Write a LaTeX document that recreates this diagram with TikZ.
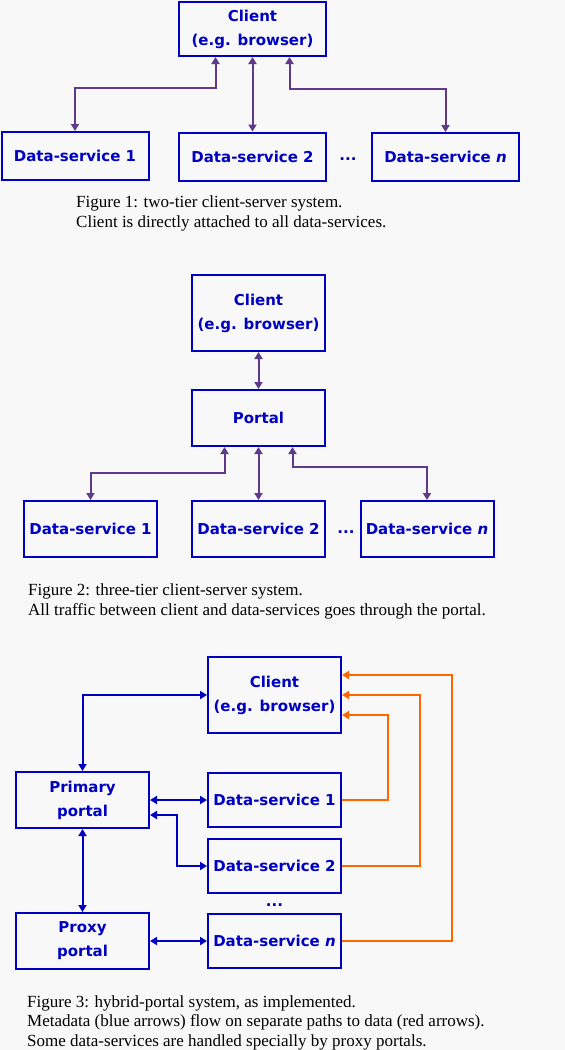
\documentclass[tikz,border=0pt]{standalone}
\usepackage{fontspec}
\setmainfont{Liberation Serif}
\newfontfamily\boxfont{DejaVu Sans}
\usepackage{tikz}
\usetikzlibrary{arrows.meta,positioning,calc}
\definecolor{dsblue}{HTML}{0000C0}
\definecolor{dspurple}{HTML}{5F3A8C}
\definecolor{dsorange}{HTML}{FF6600}
\definecolor{dsback}{HTML}{F8F8F8}

\begin{document}
\begin{tikzpicture}[
  x=1pt, y=-1pt,
  box/.style={draw=dsblue, line width=2pt, text=dsblue, align=center, inner sep=0pt,
    minimum width=133pt, minimum height=56pt,
    font=\boxfont\bfseries\fontsize{15}{24}\selectfont},
  dotnode/.style={text=dsblue, inner sep=0pt, font=\boxfont\bfseries\fontsize{15}{24}\selectfont},
  captext/.style={anchor=base west, align=left, inner sep=0pt, font=\fontsize{17}{19.5}\selectfont},
  arr/.style={{Triangle[length=7pt,width=8pt]}-{Triangle[length=7pt,width=8pt]}, line width=2pt, dspurple},
  arrb/.style={arr, dsblue},
  arro/.style={-{Triangle[length=7pt,width=8pt]}, line width=2pt, dsorange},
]
\fill[dsback] (0,0) rectangle (565,1050);
\useasboundingbox (0,0) rectangle (565,1050);

% Figure 1
\node[box, minimum width=147pt, minimum height=54pt] (cl1) at (252.5,29) {Client\\(e.g. browser)};
\node[box, minimum width=147pt, minimum height=48pt] (ds11) at (75,156) {Data-service 1};
\node[box, minimum width=147pt, minimum height=48pt] (ds12) at (252.5,156.5) {Data-service 2};
\node[box, minimum width=147pt, minimum height=48pt] (ds1n) at (445.5,157) {Data-service \textit{n}};
\node[dotnode] (dots1) at (348,159) {...};
\draw[arr] (ds11.north) -- ++(0,-43) -| ([xshift=-37pt]cl1.south);
\draw[arr] (cl1.south) -- (ds12.north);
\draw[arr] (ds1n.north) -- ++(0,-43) -| ([xshift=37pt]cl1.south);
\node[captext] (cap1) at (76,227) {Figure 1: two-tier client-server system.\\Client is directly attached to all data-services.};

% Figure 2
\node[box, minimum height=76pt] (cl2) at (258.5,313) {Client\\(e.g. browser)};
\node[box] (portal) at (258.5,418) {Portal};
\node[box] (ds21) at (90.5,529) {Data-service 1};
\node[box] (ds22) at (258.5,529) {Data-service 2};
\node[box] (ds2n) at (427,529) {Data-service \textit{n}};
\node[dotnode] (dots2) at (346,532) {...};
\draw[arr] (cl2.south) -- (portal.north);
\draw[arr] (ds21.north) -- ++(0,-27) -| ([xshift=-34pt]portal.south);
\draw[arr] (portal.south) -- (ds22.north);
\draw[arr] (ds2n.north) -- ++(0,-33) -| ([xshift=34pt]portal.south);
\node[captext] (cap2) at (28,615) {Figure 2: three-tier client-server system.\\All traffic between client and data-services goes through the portal.};

% Figure 3
\node[box, minimum height=76pt] (cl3) at (274.5,695) {Client\\(e.g. browser)};
\node[box] (prim) at (82.5,800) {Primary\\portal};
\node[box, minimum height=54pt] (ds31) at (274.5,800) {Data-service 1};
\node[box, minimum height=54pt] (ds32) at (274.5,866) {Data-service 2};
\node[dotnode] (dots3) at (274.5,905) {...};
\node[box] (prox) at (82.5,941) {Proxy\\portal};
\node[box, minimum height=54pt] (ds3n) at (274.5,941) {Data-service \textit{n}};
\draw[arrb] (prim.north) |- (cl3.west);
\draw[arrb] (prim.east) -- (ds31.west);
\draw[arrb] ([yshift=-15pt]prim.east) -- ++(27,0) |- (ds32.west);
\draw[arrb] (prim.south) -- (prox.north);
\draw[arrb] (prox.east) -- (ds3n.west);
\draw[arro] (ds31.east) -- ++(46,0) |- ([yshift=-20pt]cl3.east);
\draw[arro] (ds32.east) -- ++(78,0) |- (cl3.east);
\draw[arro] (ds3n.east) -- ++(110,0) |- ([yshift=20pt]cl3.east);
\node[captext] (cap3) at (27,1046) {Figure 3: hybrid-portal system, as implemented.\\Metadata (blue arrows) flow on separate paths to data (red arrows).\\Some data-services are handled specially by proxy portals.};
\end{tikzpicture}
\end{document}
